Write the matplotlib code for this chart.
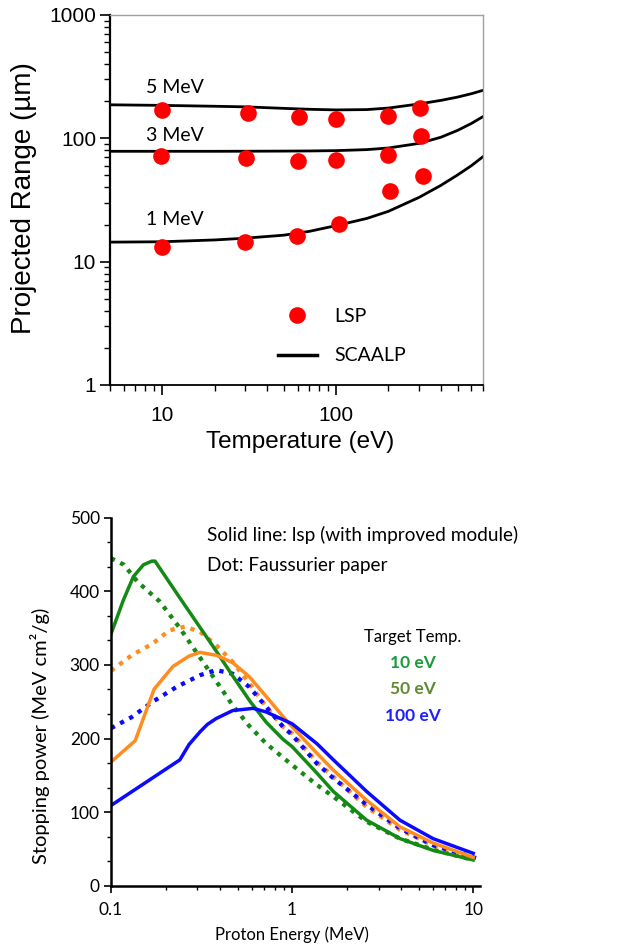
import numpy as np
import matplotlib
matplotlib.use('Agg')
import matplotlib.pyplot as plt
from matplotlib.ticker import LogLocator, MultipleLocator, NullFormatter
from matplotlib.lines import Line2D

# ---- top panel: projected range vs temperature ----
lsp_T = {
    '5 MeV': [10, 31, 61, 100, 198, 302],
    '3 MeV': [9.8, 30.3, 60, 100, 198, 309],
    '1 MeV': [10, 29.8, 59.4, 104.5, 205, 315],
}
lsp_R = {
    '5 MeV': [171, 160, 149, 143, 151, 176],
    '3 MeV': [72, 69, 66, 66.7, 72.8, 104.5],
    '1 MeV': [13.2, 14.4, 16.1, 20.2, 37.4, 49.5],
}
scaalp_T = [5, 10, 20, 30, 50, 70, 100, 150, 200, 300, 400, 500, 600, 700]
scaalp_R = {
    '5 MeV': [187, 185, 182, 180, 175, 172, 170, 171, 176, 190, 203, 216, 230, 245],
    '3 MeV': [78.5, 78.5, 78.5, 78.6, 78.8, 79, 79.5, 81, 83.5, 91, 102, 116, 132, 150],
    '1 MeV': [14.4, 14.5, 15, 15.5, 16.4, 17.6, 19.6, 22.4, 25.6, 33.2, 41.5, 50.5, 60, 71],
}
label_T = 8.1
label_R = {'5 MeV': 258, '3 MeV': 106, '1 MeV': 22.1}

# ---- bottom panel: stopping power vs proton energy ----
E_g_lsp = [0.1, 0.117, 0.133, 0.151, 0.168, 0.175, 0.24, 0.31, 0.383, 0.47, 0.584, 0.72, 0.89, 1.0,
           1.37, 1.69, 2.58, 3.94, 6.0, 10]
S_g_lsp = [342, 388, 420, 436, 441, 441, 391, 351, 318, 285, 251, 222, 199, 189,
           153, 128, 89, 64, 48, 35]
E_g_fau = [0.1, 0.118, 0.14, 0.186, 0.24, 0.31, 0.383, 0.47, 0.58, 0.72, 1.0, 1.37, 1.69, 2.58, 3.94, 6.0, 10]
S_g_fau = [445, 436, 413, 386, 350, 310, 277, 245, 217, 193, 164, 137, 121, 87, 64, 49, 35]

E_o_lsp = [0.1, 0.136, 0.173, 0.22, 0.27, 0.31, 0.383, 0.47, 0.58, 0.72, 0.89, 1.0, 1.37, 1.69, 2.58,
           3.94, 6.0, 10]
S_o_lsp = [168, 197, 267, 298, 312, 317, 313, 303, 284, 257, 230, 216, 180, 157, 116, 80, 58, 38.5]
E_o_fau = [0.1, 0.13, 0.17, 0.21, 0.256, 0.31, 0.38, 0.47, 0.58, 0.72, 0.89, 1.0, 1.37, 1.69, 2.58,
           3.94, 6.0, 10]
S_o_fau = [292, 313, 329, 347, 352, 345, 327, 304, 275, 243, 216, 207, 168, 148, 107, 76, 55, 37]

E_b_lsp = [0.1, 0.24, 0.27, 0.31, 0.34, 0.38, 0.47, 0.61, 0.72, 1.0, 1.37, 1.69, 2.58, 3.94, 6.0, 10]
S_b_lsp = [109, 171, 192, 209, 219, 227, 238, 241, 236, 220, 193, 171, 128, 89, 64, 44]
E_b_fau = [0.1, 0.13, 0.17, 0.23, 0.31, 0.38, 0.47, 0.58, 0.72, 0.89, 1.0, 1.37, 1.69, 2.58, 3.94,
           6.0, 10.5]
S_b_fau = [214, 229, 250, 270, 286, 293, 288, 270, 243, 216, 205, 166, 146, 110, 78, 55, 37]

temps = ['10 eV', '50 eV', '100 eV']
temp_colors = ['#1a9a3c', '#5e8a32', '#1f1fff']

GREEN = '#148a14'
ORANGE = '#ff8c1e'
BLUE = '#0a0aff'
RED = '#ff0000'

ARIAL = 'Liberation Sans'
CALIBRI = 'Lato'

fig = plt.figure(figsize=(6.44, 9.5), dpi=100)

# ================= top =================
ax1 = fig.add_axes([110/644, 1-385/950, 373/644, 370/950])
ax1.set_xscale('log')
ax1.set_yscale('log')
ax1.set_xlim(5, 700)
ax1.set_ylim(1, 1000)

for key in ['5 MeV', '3 MeV', '1 MeV']:
    ax1.plot(scaalp_T, scaalp_R[key], color='black', lw=2.0, zorder=2)
    ax1.plot(lsp_T[key], lsp_R[key], 'o', color=RED, ms=12, mec='none', zorder=3)
    ax1.text(label_T, label_R[key], key, ha='left', va='center', fontsize=14, family=CALIBRI)

for s in ['top', 'right']:
    ax1.spines[s].set_color('#a0a0a0')
    ax1.spines[s].set_linewidth(1.0)
ax1.spines['left'].set_linewidth(1.6)
ax1.spines['bottom'].set_linewidth(1.3)

ax1.yaxis.set_minor_locator(LogLocator(base=10, subs=np.arange(2, 10), numticks=10))
ax1.yaxis.set_minor_formatter(NullFormatter())
ax1.xaxis.set_minor_locator(LogLocator(base=10, subs=np.arange(2, 10), numticks=10))
ax1.xaxis.set_minor_formatter(NullFormatter())
ax1.set_yticks([1, 10, 100, 1000])
ax1.set_yticklabels(['1', '10', '100', '1000'])
ax1.set_xticks([10, 100])
ax1.set_xticklabels(['10', '100'])
ax1.tick_params(which='major', direction='out', length=7, width=1.2, labelsize=15, pad=3)
ax1.tick_params(axis='x', which='major', pad=8)
ax1.tick_params(which='minor', direction='out', length=4, width=1.0)
for lab in ax1.get_xticklabels() + ax1.get_yticklabels():
    lab.set_family(ARIAL)

ax1.set_xlabel('Temperature (eV)', fontsize=17.5, family=ARIAL)
ax1.set_ylabel('Projected Range (µm)', fontsize=20, family=ARIAL)
ax1.xaxis.set_label_coords(0.509, -0.125)
ax1.yaxis.set_label_coords(-0.196, 0.505)

h_lsp = Line2D([], [], ls='none', marker='o', color=RED, ms=12, mec='none')
h_sca = Line2D([], [], color='black', lw=2.5)
leg = ax1.legend([h_lsp, h_sca], ['LSP', 'SCAALP'], loc='center left', bbox_to_anchor=(0.45, 0.132),
                 frameon=False, handlelength=2.0, handletextpad=0.9, labelspacing=1.15,
                 borderpad=0, borderaxespad=0, prop={'family': CALIBRI, 'size': 14})

# ================= bottom =================
ax2 = fig.add_axes([111/644, 1-885.7/950, 369/644, 368/950])
ax2.set_xscale('log')
ax2.set_xlim(0.1, 10.9)
ax2.set_ylim(0, 500)

dot = dict(ls=(0, (1, 1.4)), lw=3.1, dash_capstyle='butt')
ax2.plot(E_g_fau, S_g_fau, color=GREEN, **dot)
ax2.plot(E_o_fau, S_o_fau, color=ORANGE, **dot)
ax2.plot(E_b_fau, S_b_fau, color=BLUE, **dot)
ax2.plot(E_g_lsp, S_g_lsp, color=GREEN, lw=2.5)
ax2.plot(E_o_lsp, S_o_lsp, color=ORANGE, lw=2.5)
ax2.plot(E_b_lsp, S_b_lsp, color=BLUE, lw=2.5)

ax2.spines['top'].set_visible(False)
ax2.spines['right'].set_visible(False)
ax2.spines['left'].set_linewidth(1.8)
ax2.spines['bottom'].set_linewidth(1.8)
ax2.set_xticks([0.1, 1, 10])
ax2.set_xticklabels(['0.1', '1', '10'])
ax2.xaxis.set_minor_locator(LogLocator(base=10, subs=np.arange(2, 10), numticks=10))
ax2.xaxis.set_minor_formatter(NullFormatter())
ax2.yaxis.set_major_locator(MultipleLocator(100))
ax2.yaxis.set_minor_locator(MultipleLocator(100/3))
ax2.tick_params(which='major', direction='out', length=5, width=1.2, labelsize=12.5, pad=3)
ax2.tick_params(axis='x', which='major', pad=7)
ax2.tick_params(which='minor', direction='out', length=3, width=1.0)
for lab in ax2.get_xticklabels() + ax2.get_yticklabels():
    lab.set_family(CALIBRI)

ax2.set_xlabel('Proton Energy (MeV)', fontsize=12, family=CALIBRI)
ax2.set_ylabel('Stopping power (MeV cm²/g)', fontsize=14.5, family=CALIBRI)
ax2.xaxis.set_label_coords(0.49, -0.111)
ax2.yaxis.set_label_coords(-0.165, 0.407)

ax2.text(0.26, 0.953, 'Solid line: lsp (with improved module)', transform=ax2.transAxes,
         ha='left', va='center', fontsize=13.7, family=CALIBRI)
ax2.text(0.26, 0.869, 'Dot: Faussurier paper', transform=ax2.transAxes,
         ha='left', va='center', fontsize=13.7, family=CALIBRI)
ax2.text(0.818, 0.676, 'Target Temp.', transform=ax2.transAxes, ha='center', va='center',
         fontsize=12, family=CALIBRI)
for i, (t, c) in enumerate(zip(temps, temp_colors)):
    ax2.text(0.818, 0.605 - i*0.0715, t, transform=ax2.transAxes, ha='center', va='center',
             fontsize=12.5, family=CALIBRI, color=c, fontweight='bold')

fig.savefig('out.png', dpi=100)
